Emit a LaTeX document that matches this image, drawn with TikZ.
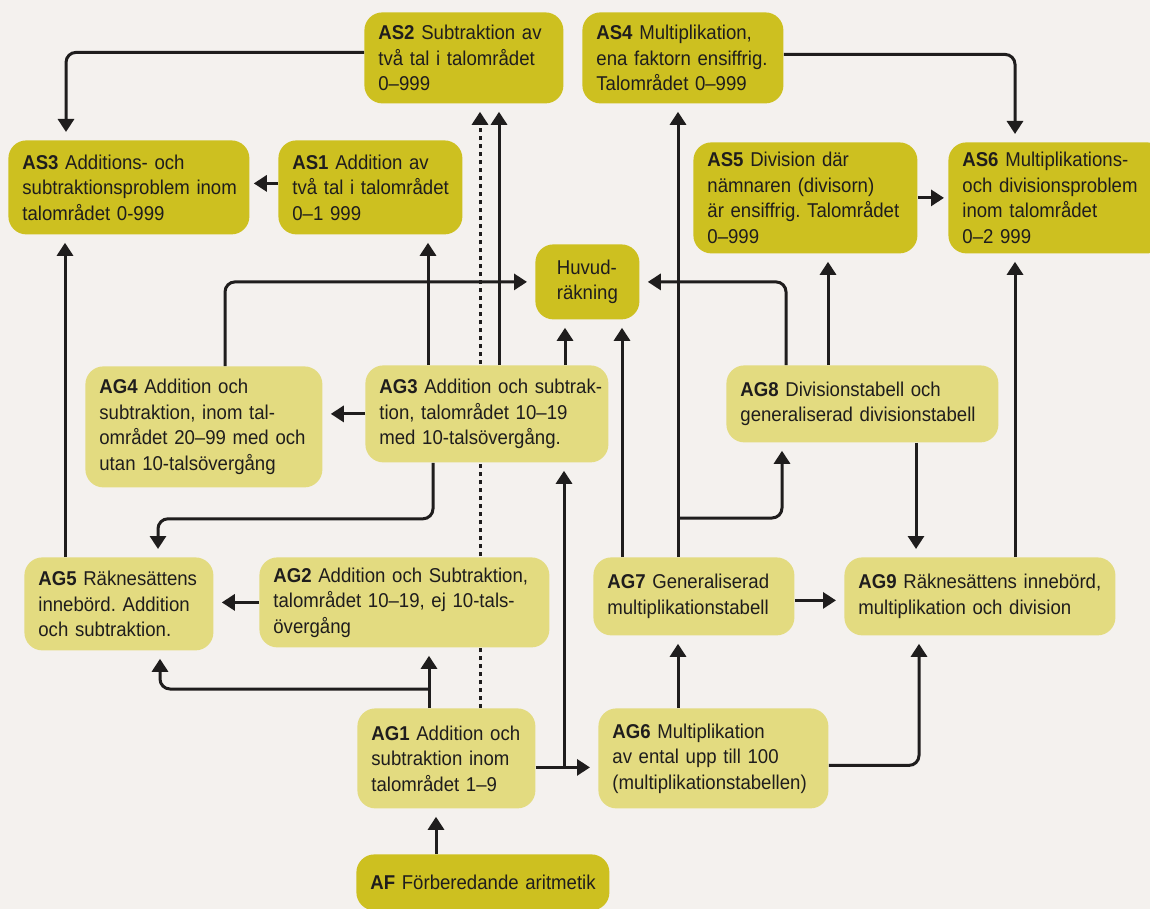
\documentclass[tikz,border=0pt]{standalone}
\usepackage{fontspec}
\setmainfont{Liberation Sans}[FakeStretch=0.93]
\frenchspacing
\usetikzlibrary{calc, arrows.meta}
\definecolor{papper}{HTML}{F4F1EE}
\definecolor{morkgul}{HTML}{CDC020}
\definecolor{ljusgul}{HTML}{E3DB80}
\definecolor{svart}{HTML}{1F1D1D}
\pgfdeclarelayer{papperslager}
\pgfdeclarelayer{bakom}
\pgfsetlayers{papperslager,bakom,main}
\tikzstyle{ruta}=[rounded corners=9pt, align=left, anchor=north west, inner xsep=3pt, inner ysep=0pt,
text=svart, font=\fontsize{10}{12.75}\selectfont, execute at begin node={\leftskip=4pt}]
\tikzstyle{mal}=[ruta, fill=morkgul]
\tikzstyle{grund}=[ruta, fill=ljusgul]
\tikzstyle{pil}=[->, draw=svart, line width=1.5pt, shorten >=4pt, rounded corners=5pt]

\begin{document}
\begin{tikzpicture}[x=0.5pt,y=-0.5pt,>={Triangle[width=8pt,length=6.5pt]}]
      \useasboundingbox (0,0) rectangle (1150,909);
      \clip (0,0) rectangle (1150,909);
      \begin{pgfonlayer}{papperslager}
      \fill[papper] (0,0) rectangle (1150,909);
      \end{pgfonlayer}
      \node [mal, text width=93.5pt, minimum height=45.5pt] (AS2) at (364,12) {\textbf{AS2} Subtraktion av\\två tal i talområdet\\0–999};
      \node [mal, text width=94.5pt, minimum height=45.5pt] (AS4) at (582,12) {\textbf{AS4} Multiplikation,\\ena faktorn ensiffrig.\\Talområdet 0–999};
      \node [mal, text width=114.5pt, minimum height=47pt] (AS3) at (8,140) {\textbf{AS3} Additions- och\\subtraktionsproblem inom\\talområdet 0-999};
      \node [mal, text width=86pt, minimum height=47pt] (AS1) at (278,140) {\textbf{AS1} Addition av\\två tal i talområdet\\0–1 999};
      \node [mal, text width=106pt, minimum height=55.5pt] (AS5) at (693,142) {\textbf{AS5} Division där\\nämnaren (divisorn)\\är ensiffrig. Talområdet\\0–999};
      \node [mal, text width=102.5pt, minimum height=55.5pt] (AS6) at (948,142) {\textbf{AS6} Multiplikations-\\och divisionsproblem\\inom talområdet\\0–2 999};
      \node [mal, minimum width=52pt, minimum height=37.5pt] (Huvud) at (535,244) {Huvud-\\räkning};
      \node [grund, text width=112.5pt, minimum height=60.5pt] (AG4) at (85,366) {\textbf{AG4} Addition och\\subtraktion, inom tal-\\området 20–99 med och\\utan 10-talsövergång};
      \node [grund, text width=115.5pt, minimum height=48.5pt] (AG3) at (365,365) {\textbf{AG3}~Addition~och~subtrak-\\tion, talområdet 10–19\\med 10-talsövergång.};
      \node [grund, text width=130pt, minimum height=38.5pt] (AG8) at (726,365) {\textbf{AG8} Divisionstabell och\\generaliserad divisionstabell};
      \node [grund, text width=88.5pt, minimum height=46.5pt] (AG5) at (24,557) {\textbf{AG5} Räknesättens\\innebörd. Addition\\och subtraktion.};
      \node [grund, text width=139pt, minimum height=45pt] (AG2) at (259,557) {\textbf{AG2} Addition och Subtraktion,\\talområdet 10–19, ej 10-tals-\\övergång};
      \node [grund, text width=94.5pt, minimum height=39pt] (AG7) at (593,557) {\textbf{AG7} Generaliserad\\multiplikationstabell};
      \node [grund, text width=129.5pt, minimum height=39pt] (AG9) at (844,557) {\textbf{AG9} Räknesättens innebörd,\\multiplikation och division};
      \node [grund, text width=83pt, minimum height=50pt] (AG1) at (357,708) {\textbf{AG1} Addition och\\subtraktion inom\\talområdet 1–9};
      \node [grund, text width=109pt, minimum height=50pt] (AG6) at (598,708) {\textbf{AG6} Multiplikation\\av ental upp till 100\\(multiplikationstabellen)};
      \node [mal, text width=120.5pt, minimum height=28pt] (AF) at (356,854) {\textbf{AF} Förberedande aritmetik};
      \begin{pgfonlayer}{bakom}
      \draw[pil, dash pattern=on 1.8pt off 2.2pt] ($(AG1.north west)+(123,0)$) coordinate (p) -- (p |- AS2.south);
      \end{pgfonlayer}
      \draw[pil] ([yshift=2.75pt]AS2.west) -| ($(AS3.north west)+(58,0)$);
      \draw[pil, shorten >=2pt] ([yshift=2pt]AS1.west) -- ([yshift=2pt]AS1.west -| AS3.east);
      \draw[pil] ($(AG3.north west)+(63,0)$) coordinate (p) -- (p |- AS1.south);
      \draw[pil] ($(AG3.north west)+(134,0)$) coordinate (p) -- (p |- AS2.south);
      \draw[pil] ($(AG3.north west)+(200,0)$) coordinate (p) -- (p |- Huvud.south);
      \draw[pil] ($(AG4.north west)+(140,0)$) |- (Huvud.west);
      \draw[pil] (AG3.west) -- (AG3.west -| AG4.east);
      \draw[pil] ($(AG3.south west)+(68,0)$) -- ++(0,56) -| ($(AG5.north west)+(134,0)$);
      \draw[pil] ($(AG5.north west)+(41,0)$) coordinate (p) -- (p |- AS3.south);
      \draw[pil] (AG2.west) -- (AG2.west -| AG5.east);
      \draw[pil] ($(AG1.north west)+(72,0)$) coordinate (p) -- (p |- AG2.south);
      \draw[pil] ($(p)+(0,-19)$) -| ($(AG5.south west)+(136,0)$);
      \draw[pil] ([yshift=-4.5pt]AG1.east) -- ([yshift=-4.5pt]AG1.east -| AG6.west);
      \draw[pil, sharp corners] ([yshift=-4.5pt]AG1.east) -| ($(AG3.south west)+(199,0)$);
      \draw[pil] ($(AG6.north west)+(80,0)$) coordinate (p) -- (p |- AG7.south);
      \draw[pil] ([yshift=-3.5pt]AG6.east) -| ($(AG9.south west)+(75,0)$);
      \draw[pil] ($(AG7.north west)+(29,0)$) coordinate (p) -- (p |- Huvud.south);
      \draw[pil] ($(AG7.north west)+(85,0)$) coordinate (p) -- (p |- AS4.south);
      \draw[pil] ($(p)+(0,-39)$) -| ($(AG8.south west)+(56,0)$);
      \draw[pil] ([yshift=-2pt]AG7.east) -- ([yshift=-2pt]AG7.east -| AG9.west);
      \draw[pil] ($(AG8.north west)+(60,0)$) |- (Huvud.east);
      \draw[pil] ($(AG8.north west)+(102,0)$) coordinate (p) -- (p |- AS5.south);
      \draw[pil] ($(AG8.south west)+(190,0)$) coordinate (p) -- (p |- AG9.north);
      \draw[pil] ($(AG9.north west)+(171,0)$) coordinate (p) -- (p |- AS6.south);
      \draw[pil, shorten >=2pt] (AS5.east) -- (AS6.west);
      \draw[pil] ([yshift=1.75pt]AS4.east) -| ($(AS6.north west)+(67,0)$);
      \draw[pil] ($(AF.north west)+(80,0)$) coordinate (p) -- (p |- AG1.south);
\end{tikzpicture}
\end{document}
